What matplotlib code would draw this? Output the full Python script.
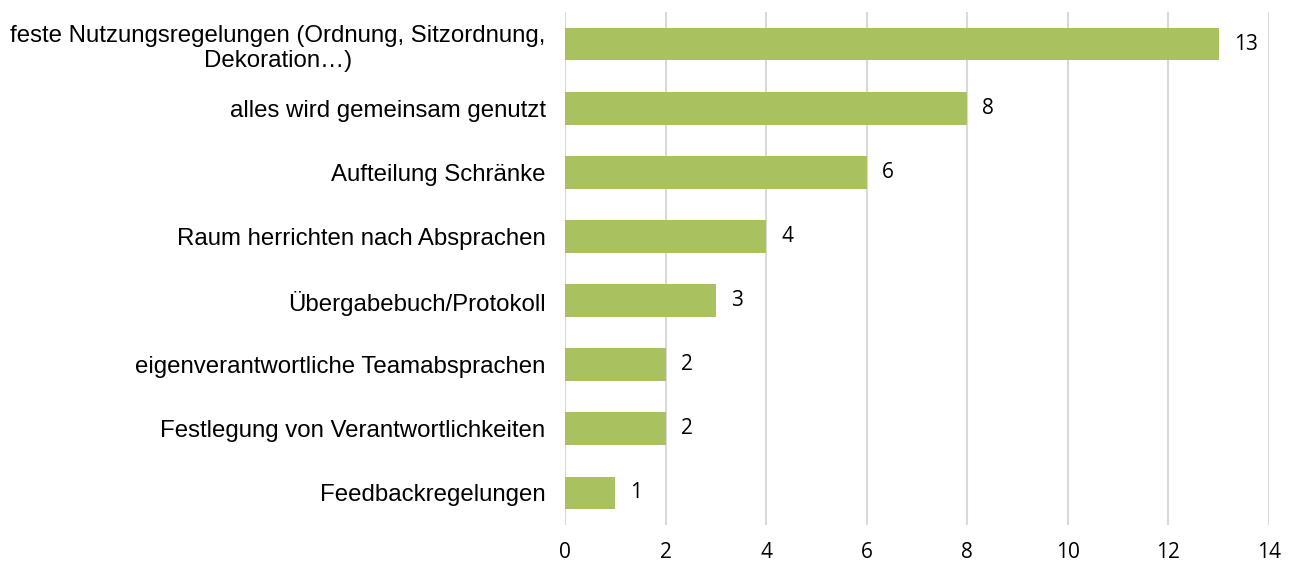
import matplotlib
matplotlib.use("Agg")
import matplotlib.pyplot as plt

categories = [
    "feste Nutzungsregelungen (Ordnung, Sitzordnung,\nDekoration…)",
    "alles wird gemeinsam genutzt",
    "Aufteilung Schränke",
    "Raum herrichten nach Absprachen",
    "Übergabebuch/Protokoll",
    "eigenverantwortliche Teamabsprachen",
    "Festlegung von Verantwortlichkeiten",
    "Feedbackregelungen",
]
values = [13, 8, 6, 4, 3, 2, 2, 1]
xticks = [0, 2, 4, 6, 8, 10, 12, 14]

fig = plt.figure(figsize=(12.9, 5.64), dpi=100)
ax = fig.add_axes([565 / 1290, 39 / 564, 704 / 1290, 513 / 564])

pos = list(range(len(categories)))
ax.barh(pos, values, height=0.51, color="#A9C15F", zorder=3)
ax.set_ylim(len(categories) - 0.5, -0.5)
ax.set_xlim(0, 14)

for y, v in zip(pos, values):
    ax.text(v + 0.3, y, str(v), va="center", ha="left", fontsize=15,
            family="Open Sans", color="#000000")

ax.set_xticks(xticks)
ax.set_xticklabels([str(t) for t in xticks], family="Open Sans", fontsize=15)
ax.set_yticks(pos)
ax.set_yticklabels(categories, family="Liberation Sans", fontsize=17.3,
                   multialignment="center", linespacing=1.2)
ax.tick_params(axis="both", length=0)
ax.tick_params(axis="y", pad=14)
ax.tick_params(axis="x", pad=12)

ax.grid(axis="x", color="#D9D9D9", linewidth=1.5, zorder=0)
for s in ax.spines.values():
    s.set_visible(False)

fig.savefig("out.png", dpi=100, facecolor="white")
